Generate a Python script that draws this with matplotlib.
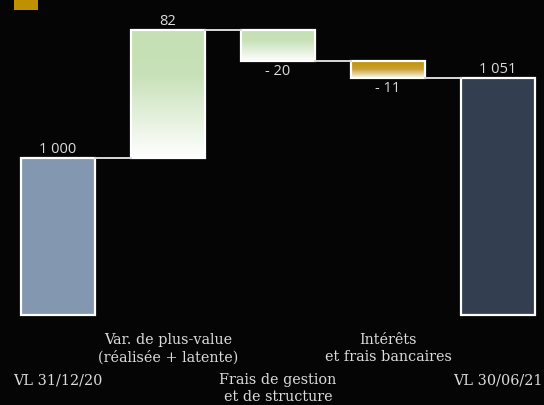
import matplotlib
matplotlib.use('Agg')
import matplotlib.pyplot as plt
from matplotlib.colors import LinearSegmentedColormap
from matplotlib.patches import Rectangle
import numpy as np

# Waterfall data
categories = ['VL 31/12/20', 'Var. de plus-value\n(réalisée + latente)',
              'Frais de gestion\net de structure', 'Intérêts\net frais bancaires',
              'VL 30/06/21']
values = [1000, 82, -20, -11, 1051]
value_labels = ['1 000', '82', '- 20', '- 11', '1 051']
kinds = ['total', 'up', 'down', 'fee', 'total_end']

BASE = 900
BG = '#050505'
TEXT = '#dcdcdc'

green_cmap = LinearSegmentedColormap.from_list(
    'green', [(0, '#c5e0b4'), (0.35, '#c8e1b8'), (1, '#ffffff')])
gold_cmap = LinearSegmentedColormap.from_list(
    'gold', [(0, '#bf9000'), (0.5, '#c9a035'), (1, '#fffaf0')])
solid = {'total': '#8497b0', 'total_end': '#333f50'}

fig = plt.figure(figsize=(5.44, 4.05), dpi=100)
fig.patch.set_facecolor(BG)
ax = fig.add_axes([0, 0, 1, 1])
ax.set_facecolor(BG)
ax.set_xlim(-0.527, 4.418)
ax.set_ylim(842.5, 1101.1)
ax.axis('off')

width = 0.673
grad = np.linspace(0, 1, 256).reshape(-1, 1)

# compute bar bottoms / tops
running = 0
spans = []
for v, k in zip(values, kinds):
    if k.startswith('total'):
        lo, hi = BASE, v
        running = v
    else:
        new = running + v
        lo, hi = min(running, new), max(running, new)
        running = new
    spans.append((lo, hi))

for i, ((lo, hi), k) in enumerate(zip(spans, kinds)):
    x0 = i - width / 2
    if k in solid:
        ax.add_patch(Rectangle((x0, lo), width, hi - lo, facecolor=solid[k],
                               edgecolor='white', linewidth=1.6, zorder=3))
    else:
        cmap = green_cmap if k in ('up', 'down') else gold_cmap
        ax.imshow(grad, cmap=cmap, aspect='auto', origin='upper',
                  extent=(x0, x0 + width, lo, hi), zorder=2, interpolation='bilinear')
        ax.add_patch(Rectangle((x0, lo), width, hi - lo, facecolor='none',
                               edgecolor='white', linewidth=1.6, zorder=3))

# connector lines
level = values[0]
for i in range(len(values) - 1):
    if i > 0:
        level = level + values[i]
    ax.plot([i + width / 2, i + 1 - width / 2], [level, level],
            color='#d9d9d9', linewidth=1.4, zorder=3)

# value labels
for i, ((lo, hi), v, lab, k) in enumerate(zip(spans, values, value_labels, kinds)):
    if v >= 0:
        ax.annotate(lab, (i, hi), xytext=(0, 1), textcoords='offset points',
                    ha='center', va='bottom', color=TEXT, fontsize=10.5,
                    family='Open Sans')
    else:
        ax.annotate(lab, (i, lo), xytext=(0, -2), textcoords='offset points',
                    ha='center', va='top', color=TEXT, fontsize=10.5,
                    family='Open Sans')

# category labels, staggered
trans = ax.get_xaxis_transform()
for i, cat in enumerate(categories):
    y = 1 - 333 / 405 if i % 2 == 1 else 1 - 373 / 405
    ax.text(i, y, cat, transform=trans, ha='center', va='top', color=TEXT,
            fontsize=10.4, family='DejaVu Serif', linespacing=1.3)

# small gold marker at top-left
fig.patches.append(Rectangle((14 / 544, 1 - 10 / 405), 24 / 544, 10 / 405,
                             transform=fig.transFigure, facecolor='#bf9000',
                             edgecolor='none'))

fig.savefig('out.png', dpi=100, facecolor=BG)
